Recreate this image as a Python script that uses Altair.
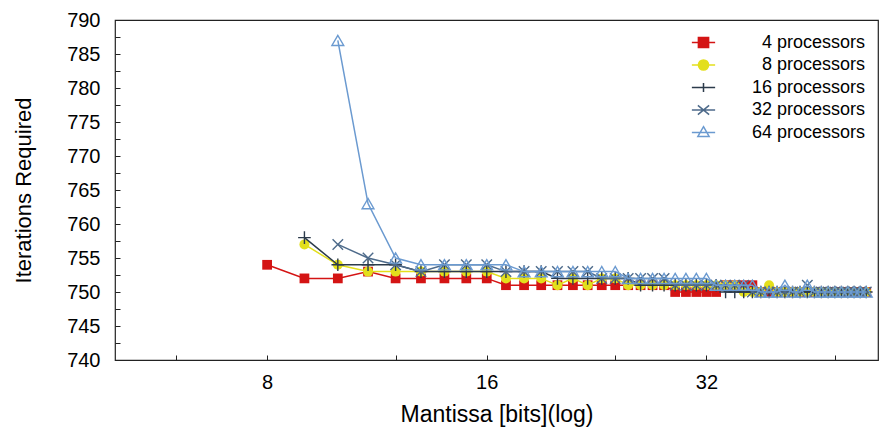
import altair as alt
import pandas as pd

bits = [8, 9, 10, 11, 12, 13, 14, 15, 16, 17, 18, 19, 20, 21, 22, 23, 24, 25, 26, 27, 28, 29, 30,
        31, 32, 33, 34, 35, 36, 37, 38, 39, 40, 41, 42, 43, 44, 45, 46, 47, 48, 49, 50, 51, 52, 53]

series_names = ["4 processors", "8 processors", "16 processors", "32 processors", "64 processors"]

p4 = [754, 752, 752, 753, 752, 752, 752, 752, 752,
      751, 751, 751, 751, 751, 751, 751, 751, 751, 751, 751, 751,
      750, 750, 750, 750, 750,
      751, 751, 751, 751,
      750, 750, 750, 750, 750, 750, 750, 750, 750, 750, 750, 750, 750, 750, 750, 750]
p8 = [None, 757, 754, 753, 753, 753, 753, 753, 753,
      752, 752, 752, 751, 752, 751, 752, 752,
      751, 751, 751, 751, 751, 751, 751, 751, 751, 751, 751,
      750, 750, 750, 751,
      750, 750, 750, 750, 750, 750, 750, 750, 750, 750, 750, 750, 750, 750]
p16 = [None, 758, 754, 754, 754, 753, 753, 753, 753,
       753, 753, 753, 752, 752, 752, 752, 752, 752,
       751, 751, 751, 751, 751, 751, 751, 751,
       750, 750, 750, 750, 750, 750, 750, 750, 750, 750, 750, 750, 750, 750, 750, 750, 750, 750, 750, 750]
p32 = [None, None, 757, 755, 754, 753, 754, 754, 754,
       753, 753, 753, 753, 753, 753,
       752, 752, 752, 752, 752, 752,
       751, 751, 751, 751, 751, 751, 751, 751,
       750, 750, 750, 750, 750, 750, 750,
       751,
       750, 750, 750, 750, 750, 750, 750, 750, 750]
p64 = [None, None, 787, 763, 755, 754, 754, 754, 754,
       754, 753, 753, 753, 753, 753, 753, 753,
       752, 752, 752, 752, 752, 752, 752, 752,
       751, 751, 751, 751, 751,
       750, 750, 750,
       751, 750, 750, 751,
       750, 750, 750, 750, 750, 750, 750, 750, 750]

x_ticks = [6, 8, 12, 16, 24, 32, 48]
x_labels = [8, 16, 32]
y_ticks = [740, 742.5, 745, 747.5, 750, 752.5, 755, 757.5, 760, 762.5, 765, 767.5, 770, 772.5,
           775, 777.5, 780, 782.5, 785, 787.5, 790]

colors = ["#d41414", "#e3df1c", "#2c3b4b", "#4d6a8a", "#6b9ad0"]

rows = []
for name, vals in zip(series_names, [p4, p8, p16, p32, p64]):
    for b, v in zip(bits, vals):
        if v is not None:
            rows.append({"bits": b, "iters": v, "series": name})
df = pd.DataFrame(rows)

FONT = "Liberation Sans"

x_enc = alt.X("bits:Q",
              scale=alt.Scale(type="log", base=2, domain=[4.95, 55], nice=False),
              axis=alt.Axis(title="Mantissa [bits](log)", values=x_ticks, format="d",
                            labelExpr="indexof([8,16,32], datum.value) >= 0 ? datum.label : ''",
                            domain=False, grid=False, offset=-5, tickSize=5, tickColor="#222",
                            labelPadding=12, titlePadding=11, labelFontSize=20, titleFontSize=23,
                            labelFont=FONT, titleFont=FONT, titleFontWeight="normal",
                            labelColor="#000", titleColor="#000"))
y_enc = alt.Y("iters:Q",
              scale=alt.Scale(domain=[740, 790], zero=False, nice=False),
              axis=alt.Axis(title="Iterations Required", values=y_ticks, format="d",
                            labelExpr="datum.value % 5 == 0 ? datum.label : ''",
                            domain=False, grid=False, offset=-5, tickSize=5, tickColor="#222",
                            labelPadding=15, titlePadding=31, labelFontSize=20, titleFontSize=22,
                            labelFont=FONT, titleFont=FONT, titleFontWeight="normal",
                            labelColor="#000", titleColor="#000"))

base = alt.Chart(df)

plot_shapes = ["square", "circle", "M-1,0H1M0,-1V1", "M-1,-1L1,1M-1,1L1,-1", "triangle-up"]
plot_filled = [True, True, False, False, False]
plot_sizes = [95, 100, 160, 110, 140]

layers = []
for name, col, shp, fil, sz in zip(series_names, colors, plot_shapes, plot_filled, plot_sizes):
    sub = base.transform_filter(alt.datum.series == name)
    layers.append(sub.mark_line(color=col, strokeWidth=1.5).encode(x=x_enc, y=y_enc))
    layers.append(sub.mark_point(shape=shp, filled=fil, color=col, size=sz, opacity=1,
                                 strokeWidth=1.4).encode(x=x_enc, y=y_enc))

legend_paths = [
    "M-1.55,0H1.55M-0.68,-0.68H0.68V0.68H-0.68Z",
    "M-1.55,0H1.55M0.68,0A0.68,0.68,0,1,1,-0.68,0A0.68,0.68,0,1,1,0.68,0Z",
    "M-1.55,0H1.55M0,-0.6V0.6",
    "M-1.55,0H1.55M-0.75,-0.62L0.75,0.62M-0.75,0.62L0.75,-0.62",
    "M-1.55,0H1.55M0,-0.78L0.75,0.52H-0.75Z",
]
legend_fill = [colors[0], colors[1], "transparent", "transparent", "transparent"]

leg = alt.Legend(title=None, orient="none", legendX=579.5, legendY=13.5, padding=0,
                 symbolStrokeWidth=1.5, symbolOpacity=1, symbolSize=225,
                 labelFontSize=18, labelFont=FONT,
                 labelColor="#000", labelAlign="right", labelOffset=152.5,
                 rowPadding=4.5, labelLimit=300)

legend_layer = base.transform_filter("datum.bits < 0").mark_point(size=225).encode(
    x=x_enc, y=y_enc,
    shape=alt.Shape("series:N", scale=alt.Scale(domain=series_names, range=legend_paths), legend=leg),
    stroke=alt.Stroke("series:N", scale=alt.Scale(domain=series_names, range=colors), legend=leg),
    fill=alt.Fill("series:N", scale=alt.Scale(domain=series_names, range=legend_fill), legend=leg),
)

chart = alt.layer(*layers, legend_layer).properties(
    width=763, height=340,
    autosize=alt.AutoSizeParams(type="none"),
    padding={"left": 115, "top": 20, "right": 2, "bottom": 72},
    background="white",
).configure_view(stroke="#222", strokeWidth=1.2)

chart.save("out.html", embed_options={"renderer": "svg", "actions": False})
